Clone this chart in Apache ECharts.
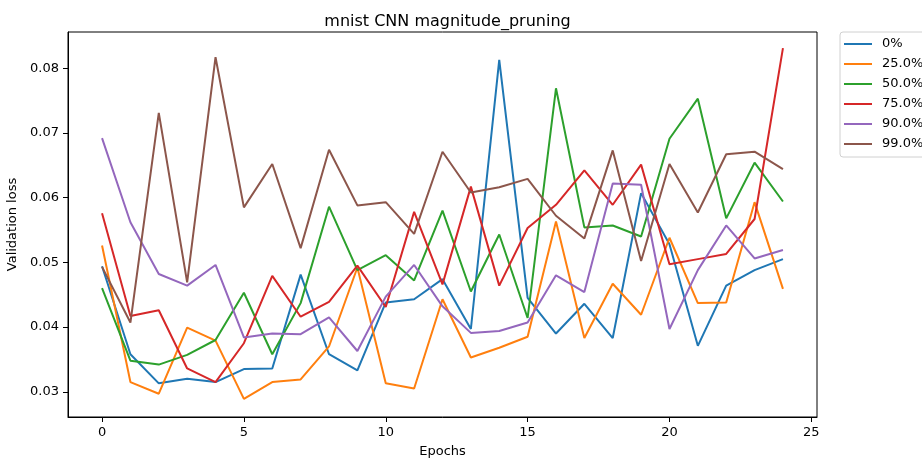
<!DOCTYPE html>
<html>
<head>
<meta charset="utf-8">
<script src="https://cdn.jsdelivr.net/npm/echarts@6/dist/echarts.min.js"></script>
<style>
html,body{margin:0;padding:0;background:#fff;}
#chart{width:922px;height:459px;}
</style>
</head>
<body>
<div id="chart"></div>
<script>
var epochs = [0,1,2,3,4,5,6,7,8,9,10,11,12,13,14,15,16,17,18,19,20,21,22,23,24];
var seriesNames = ['0%', '25.0%', '50.0%', '75.0%', '90.0%', '99.0%'];
var loss0  = [0.0494,0.0358,0.0313,0.0320,0.0315,0.0335,0.0336,0.0481,0.0358,0.0333,0.0438,0.0443,0.0474,0.0397,0.0813,0.0445,0.0390,0.0436,0.0383,0.0607,0.0528,0.0371,0.0464,0.0488,0.0505];
var loss25 = [0.0526,0.0315,0.0297,0.0399,0.0379,0.0289,0.0315,0.0319,0.0370,0.0492,0.0313,0.0305,0.0443,0.0353,0.0368,0.0385,0.0563,0.0383,0.0467,0.0419,0.0538,0.0437,0.0438,0.0593,0.0459];
var loss50 = [0.0460,0.0348,0.0342,0.0357,0.0380,0.0453,0.0358,0.0437,0.0586,0.0488,0.0511,0.0472,0.0580,0.0455,0.0543,0.0414,0.0769,0.0554,0.0557,0.0540,0.0691,0.0753,0.0568,0.0654,0.0594];
var loss75 = [0.0576,0.0417,0.0426,0.0336,0.0315,0.0375,0.0479,0.0416,0.0439,0.0495,0.0431,0.0578,0.0466,0.0617,0.0464,0.0553,0.0589,0.0642,0.0589,0.0651,0.0497,0.0505,0.0513,0.0567,0.0831];
var loss90 = [0.0692,0.0562,0.0482,0.0464,0.0496,0.0384,0.0390,0.0389,0.0415,0.0363,0.0447,0.0496,0.0432,0.0391,0.0394,0.0407,0.0480,0.0454,0.0622,0.0620,0.0397,0.0488,0.0557,0.0506,0.0519];
var loss99 = [0.0493,0.0407,0.0731,0.0469,0.0817,0.0585,0.0652,0.0522,0.0674,0.0588,0.0593,0.0544,0.0671,0.0608,0.0616,0.0629,0.0572,0.0537,0.0673,0.0502,0.0652,0.0577,0.0667,0.0671,0.0644];
var xTicks = [0, 5, 10, 15, 20, 25];
var yTicks = [0.03, 0.04, 0.05, 0.06, 0.07, 0.08];

var allLoss = [loss0, loss25, loss50, loss75, loss90, loss99];
var colors = ['#1f77b4', '#ff7f0e', '#2ca02c', '#d62728', '#9467bd', '#8c564b'];
var FONT = 'DejaVu Sans';

var series = allLoss.map(function (arr, i) {
  return {
    name: seriesNames[i],
    type: 'line',
    data: epochs.map(function (e, j) { return [e, arr[j]]; }),
    symbol: 'none',
    lineStyle: { width: 2, color: colors[i] },
    itemStyle: { color: colors[i] }
  };
});

var chart = echarts.init(document.getElementById('chart'), null, { renderer: 'canvas' });
chart.setOption({
  animation: false,
  backgroundColor: '#fff',
  textStyle: { fontFamily: FONT },
  title: {
    text: 'mnist CNN magnitude_pruning',
    left: 442.5,
    textAlign: 'center',
    top: 9,
    textStyle: { fontFamily: FONT, fontSize: 16, fontWeight: 'normal', color: '#000' }
  },
  legend: {
    orient: 'vertical',
    left: 840,
    top: 32,
    padding: [5, 4, 6, 4],
    itemGap: 6,
    itemWidth: 28,
    itemHeight: 2,
    icon: 'rect',
    borderColor: '#d0d0d0',
    borderWidth: 1,
    borderRadius: 3,
    backgroundColor: 'rgba(255,255,255,0.8)',
    textStyle: { fontFamily: FONT, fontSize: 13, color: '#000', lineHeight: 14, padding: [0, 0, 0, 5] },
    data: seriesNames
  },
  grid: {
    left: 68, top: 32, right: 105, bottom: 42,
    containLabel: false,
    outerBoundsMode: 'none',
    show: true, borderColor: '#000', borderWidth: 1, backgroundColor: 'transparent'
  },
  xAxis: {
    type: 'value',
    min: -1.2, max: 25.2,
    name: 'Epochs',
    nameLocation: 'middle',
    nameGap: 28,
    nameTextStyle: { fontFamily: FONT, fontSize: 13, color: '#000' },
    axisLine: { show: true, onZero: false, lineStyle: { color: '#000', width: 1 } },
    axisTick: { show: true, length: 5, lineStyle: { color: '#000' }, customValues: xTicks },
    axisLabel: { color: '#000', fontFamily: FONT, fontSize: 13, margin: 9, customValues: xTicks, formatter: function (v) { return String(v); } },
    splitLine: { show: false }
  },
  yAxis: {
    type: 'value',
    min: 0.0261, max: 0.0856,
    name: 'Validation loss',
    nameLocation: 'middle',
    nameGap: 38,
    nameTextStyle: { fontFamily: FONT, fontSize: 13, color: '#000' },
    axisLine: { show: true, onZero: false, lineStyle: { color: '#000', width: 1 } },
    axisTick: { show: true, length: 5, lineStyle: { color: '#000' }, customValues: yTicks },
    axisLabel: { color: '#000', fontFamily: FONT, fontSize: 13, margin: 9, customValues: yTicks, formatter: function (v) { return v.toFixed(2); } },
    splitLine: { show: false }
  },
  series: series
});
</script>
</body>
</html>
